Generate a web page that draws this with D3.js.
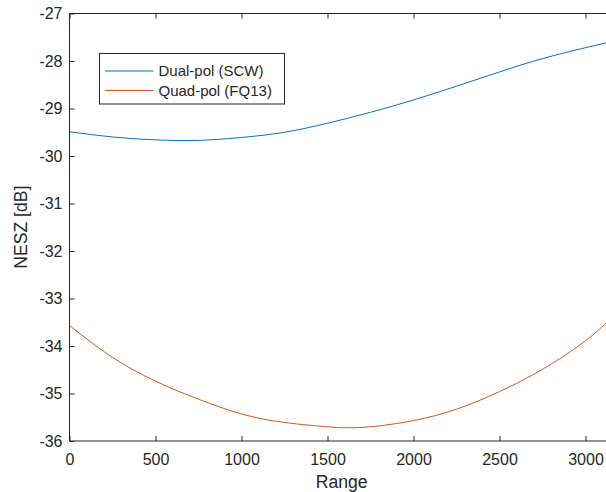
<!DOCTYPE html>
<html>
<head>
<meta charset="utf-8">
<script src="https://cdn.jsdelivr.net/npm/d3@7"></script>
<style>
  html, body { margin: 0; padding: 0; background: #fff; }
  svg { display: block; }
  text { font-family: "Liberation Sans", Arial, Helvetica, sans-serif; fill: #262626; }
</style>
</head>
<body>
<svg id="chart" width="606" height="492"></svg>
<script>
// Range samples and NESZ values (dB) for each acquisition mode
const rangeDual = [0, 250, 500, 750, 1000, 1250, 1500, 1750, 2000, 2250, 2500, 2750, 3000, 3165];
const neszDual  = [-29.49, -29.60, -29.66, -29.67, -29.61, -29.50, -29.31, -29.08, -28.82, -28.53, -28.23, -27.95, -27.72, -27.58];

const rangeQuad = [0, 250, 500, 750, 1000, 1250, 1500, 1600, 1750, 2000, 2250, 2500, 2750, 3000, 3165];
const neszQuad  = [-33.57, -34.24, -34.74, -35.12, -35.43, -35.61, -35.70, -35.72, -35.70, -35.57, -35.33, -34.96, -34.49, -33.89, -33.36];

const seriesNames = ["Dual-pol (SCW)", "Quad-pol (FQ13)"];
const seriesColors = ["#0072BD", "#D95319"];

const xTicks = [0, 500, 1000, 1500, 2000, 2500, 3000];
const yTicks = [-36, -35, -34, -33, -32, -31, -30, -29, -28, -27];
const xDomain = [0, 3165];
const yDomain = [-36, -27];

const svg = d3.select("#chart");
const plotLeft = 69.5, plotTop = 13.5, plotBottom = 441;
const x = d3.scaleLinear().domain([0, 3000]).range([plotLeft, 585.5]);
const xRight = x(xDomain[1]);
const y = d3.scaleLinear().domain(yDomain).range([plotBottom, plotTop]);

const axisColor = "#262626";
const plainNumber = d => String(d);

// curves
const series = [
  rangeDual.map((r, i) => [r, neszDual[i]]),
  rangeQuad.map((r, i) => [r, neszQuad[i]])
];
const line = d3.line().x(d => x(d[0])).y(d => y(d[1])).curve(d3.curveNatural);
svg.append("g").selectAll("path").data(series).join("path")
  .attr("d", line)
  .attr("fill", "none")
  .attr("stroke", (d, i) => seriesColors[i])
  .attr("stroke-width", 1);

// axes with inward ticks, boxed frame
const gx = svg.append("g").attr("transform", `translate(0,${plotBottom})`)
  .call(d3.axisBottom(x).tickValues(xTicks).tickSize(-5).tickPadding(13).tickFormat(plainNumber));
const gxTop = svg.append("g").attr("transform", `translate(0,${plotTop})`)
  .call(d3.axisTop(x).tickValues(xTicks).tickSize(-5).tickFormat(""));
const gy = svg.append("g").attr("transform", `translate(${plotLeft},0)`)
  .call(d3.axisLeft(y).tickValues(yTicks).tickSize(-5).tickPadding(7).tickFormat(plainNumber));

[gx, gxTop, gy].forEach(g => {
  g.select(".domain").remove();
  g.selectAll(".tick line").attr("stroke", axisColor).attr("stroke-width", 1);
  g.selectAll(".tick text").attr("font-size", 16).attr("fill", axisColor);
});

svg.append("path")
  .attr("d", `M${xRight},${plotTop}H${plotLeft}V${plotBottom}H${xRight}`)
  .attr("fill", "none").attr("stroke", axisColor).attr("stroke-width", 1);

// axis titles
svg.append("text")
  .attr("x", (plotLeft + xRight) / 2).attr("y", 488)
  .attr("text-anchor", "middle").attr("font-size", 17.6)
  .text("Range");
svg.append("text")
  .attr("transform", `translate(27,${(plotTop + plotBottom) / 2}) rotate(-90)`)
  .attr("text-anchor", "middle").attr("font-size", 17.6)
  .text("NESZ [dB]");

// legend
const lg = svg.append("g");
lg.append("rect")
  .attr("x", 99.5).attr("y", 53.5).attr("width", 185).attr("height", 50.5)
  .attr("fill", "#fff").attr("stroke", axisColor).attr("stroke-width", 1);
seriesNames.forEach((name, i) => {
  const ly = 71 + i * 19.5;
  lg.append("line").attr("x1", 105).attr("x2", 153.5).attr("y1", ly).attr("y2", ly)
    .attr("stroke", seriesColors[i]).attr("stroke-width", 1);
  lg.append("text").attr("x", 158.5).attr("y", ly + 5)
    .attr("font-size", 15).text(name);
});
</script>
</body>
</html>
